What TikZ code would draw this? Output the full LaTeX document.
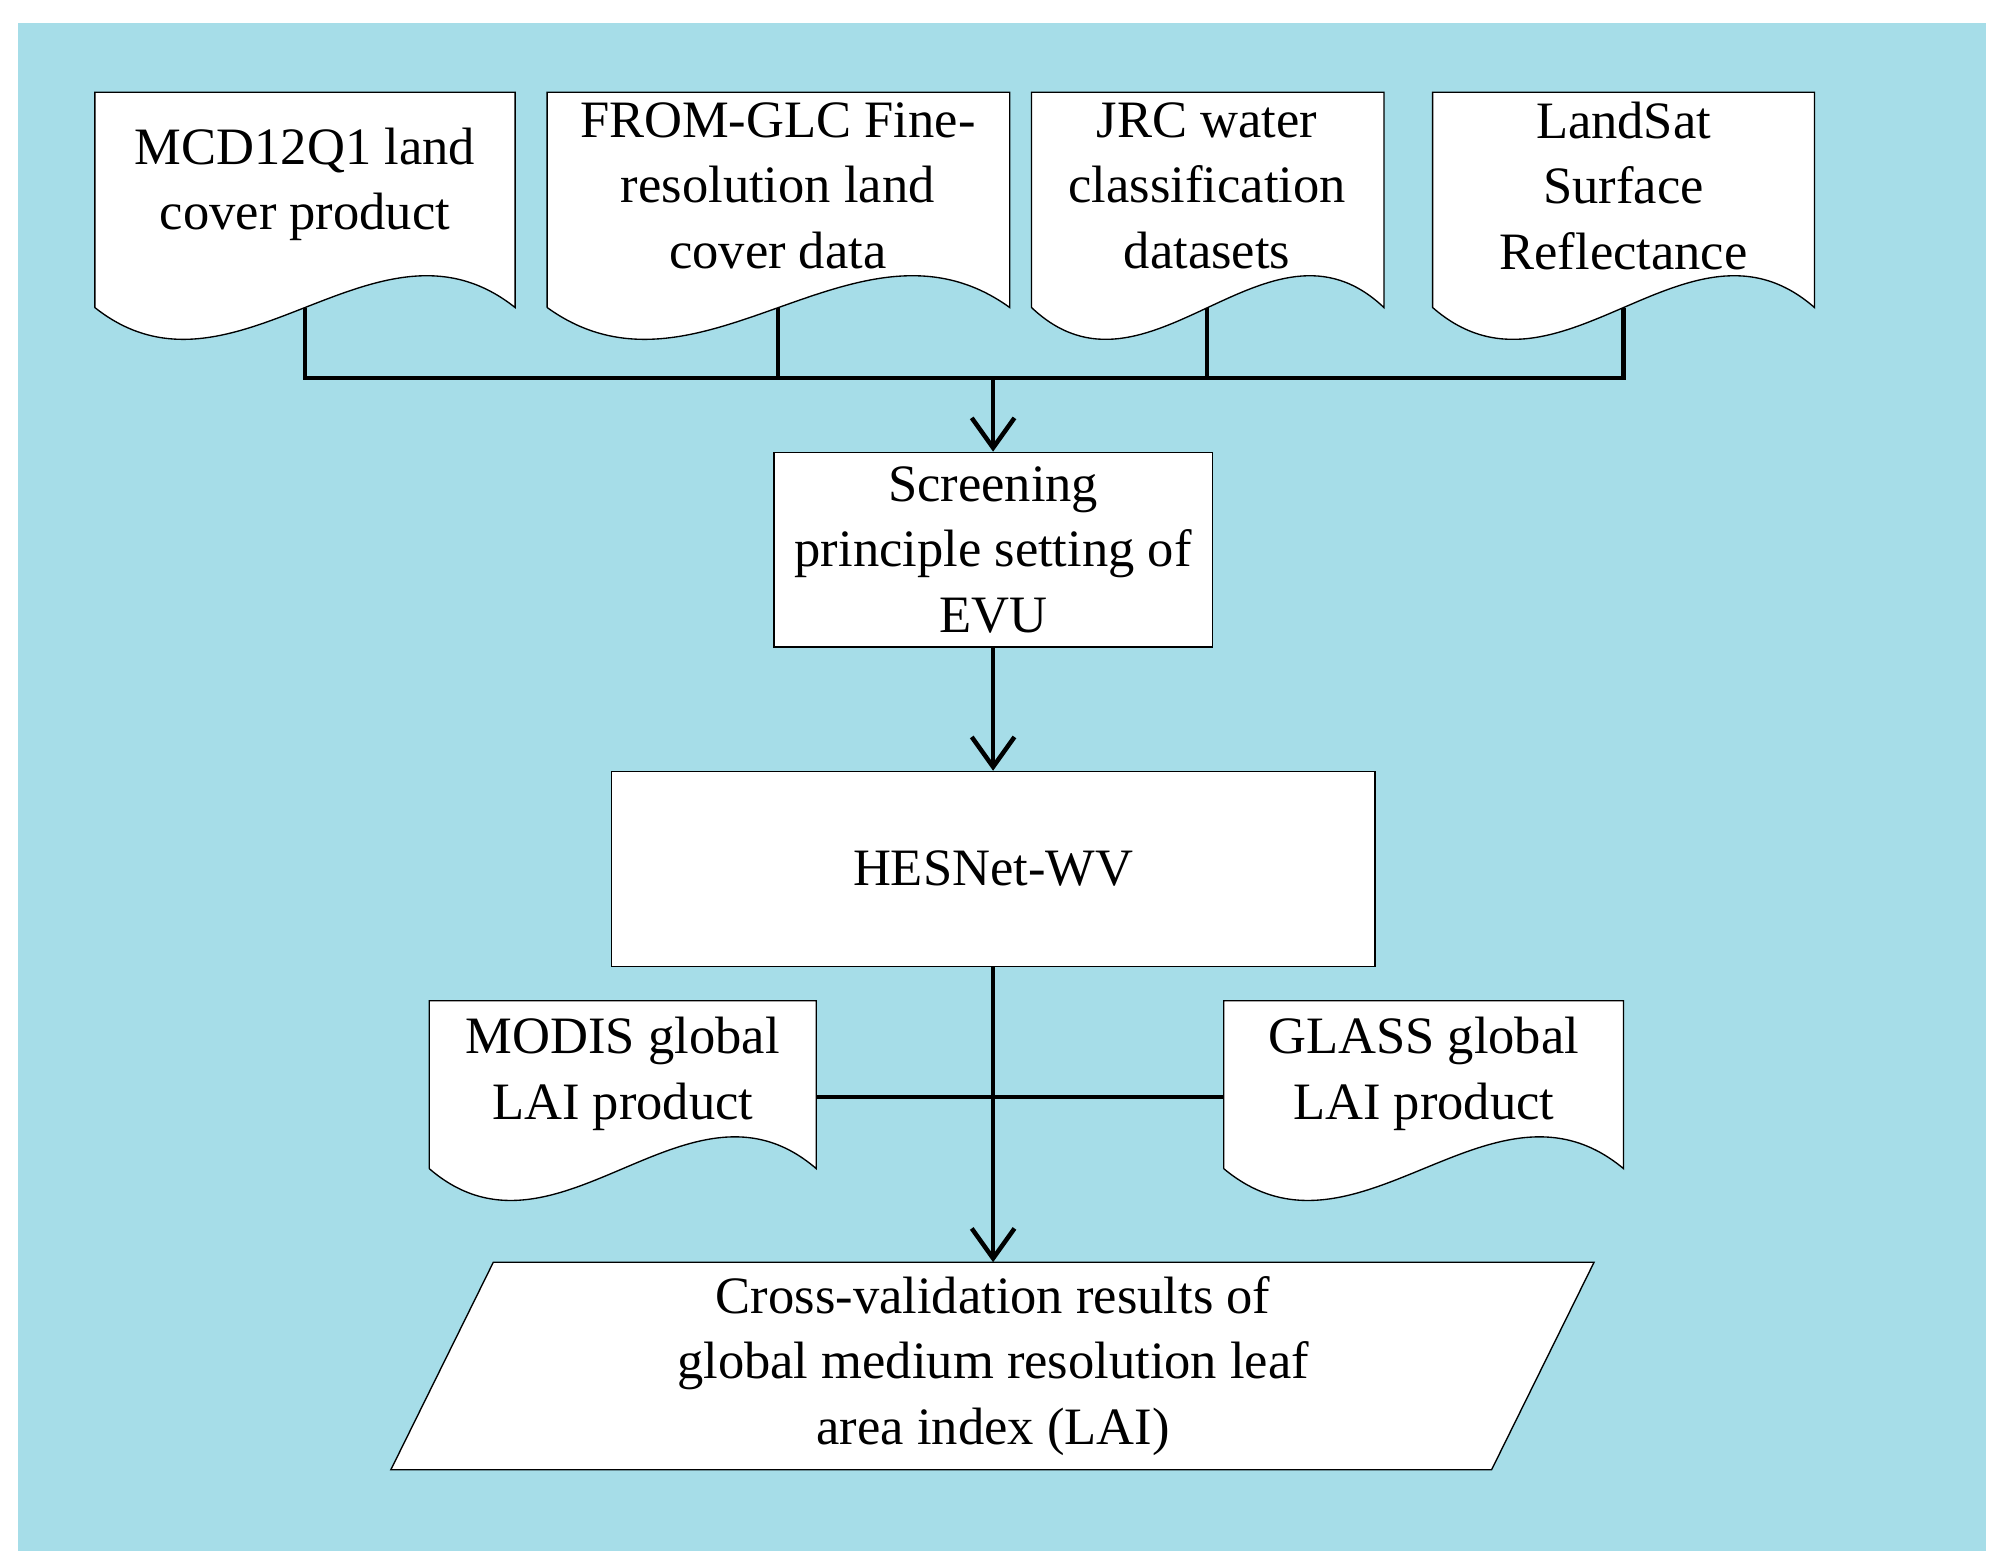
\documentclass[tikz,border=0pt]{standalone}
\usepackage{fontspec}
\setmainfont{Liberation Serif}
\usetikzlibrary{arrows.meta}
\definecolor{bg}{HTML}{A6DDE8}
\begin{document}
\begin{tikzpicture}[x=0.3mm,y=-0.3mm,
  box/.style={draw,fill=white,line width=0.9pt},
  txt/.style={align=center,font=\fontsize{35}{43.5}\selectfont,inner sep=0pt},
  conn/.style={line width=3pt},
  arr/.style={conn,-{Straight Barb[length=7mm,width=10mm,line width=3pt]}}]
\useasboundingbox (0,0) rectangle (1560,1223.6);
\fill[white] (0,0) rectangle (1560,1223.6);
\fill[bg] (14,18) rectangle (1550,1210);
\newcommand\docpath[4]{\draw[box] (#1,#4) -- (#1,#3) -- (#2,#3) -- (#2,#4)
  .. controls +({-0.33*(#2-#1)},-86) and +({0.33*(#2-#1)},86) .. (#1,#4);}
% connectors (behind)
\coordinate (c1) at (238,240); \coordinate (c2) at (607,240);
\coordinate (c3) at (942,240); \coordinate (c4) at (1267,240);
\coordinate (j1) at (238,295); \coordinate (j4) at (1267,295);
\coordinate (jm) at (775,295);
\draw[conn] (c1) -- (j1) -- (j4) -- (c4);
\draw[conn] (c2) -- (607,295); \draw[conn] (c3) -- (942,295);
% documents
\docpath{74}{402}{72}{240}
\docpath{427}{788}{72}{240}
\docpath{805}{1080}{72}{240}
\docpath{1118}{1416}{72}{240}
\docpath{335}{637}{781}{912}
\docpath{955}{1267}{781}{912}
\node[txt] (d1) at (238,144) {MCD12Q1 land\\cover product};
\node[txt] (d2) at (607,145) {FROM-GLC Fine-\\resolution land\\cover data};
\node[txt] (d3) at (942,145) {JRC water\\classification\\datasets};
\node[txt] (d4) at (1267,145) {LandSat\\Surface\\Reflectance};
\node[txt] (m) at (486,838) {MODIS global\\LAI product};
\node[txt] (g) at (1111,838) {GLASS global\\LAI product};
\coordinate (mr) at (637,856); \coordinate (gl) at (955,856);
% boxes
\node[box,txt,minimum width=102.6mm,minimum height=45.6mm] (s) at (775,429) {Screening\\principle setting of\\EVU};
\node[box,txt,minimum width=178.8mm,minimum height=45.6mm] (h) at (775,678) {HESNet-WV};
\draw[box] (305,1147) -- (385,985) -- (1244,985) -- (1164,1147) -- cycle;
\node[txt] (cv) at (775,1066) {Cross-validation results of\\global medium resolution leaf\\area index (LAI)};
\coordinate (ct) at (775,985);
\draw[arr] (jm) -- (s.north);
\draw[arr] (s.south) -- (h.north);
\draw[arr] (h.south) -- (ct);
\draw[conn] (mr) -- (gl);
\end{tikzpicture}
\end{document}
